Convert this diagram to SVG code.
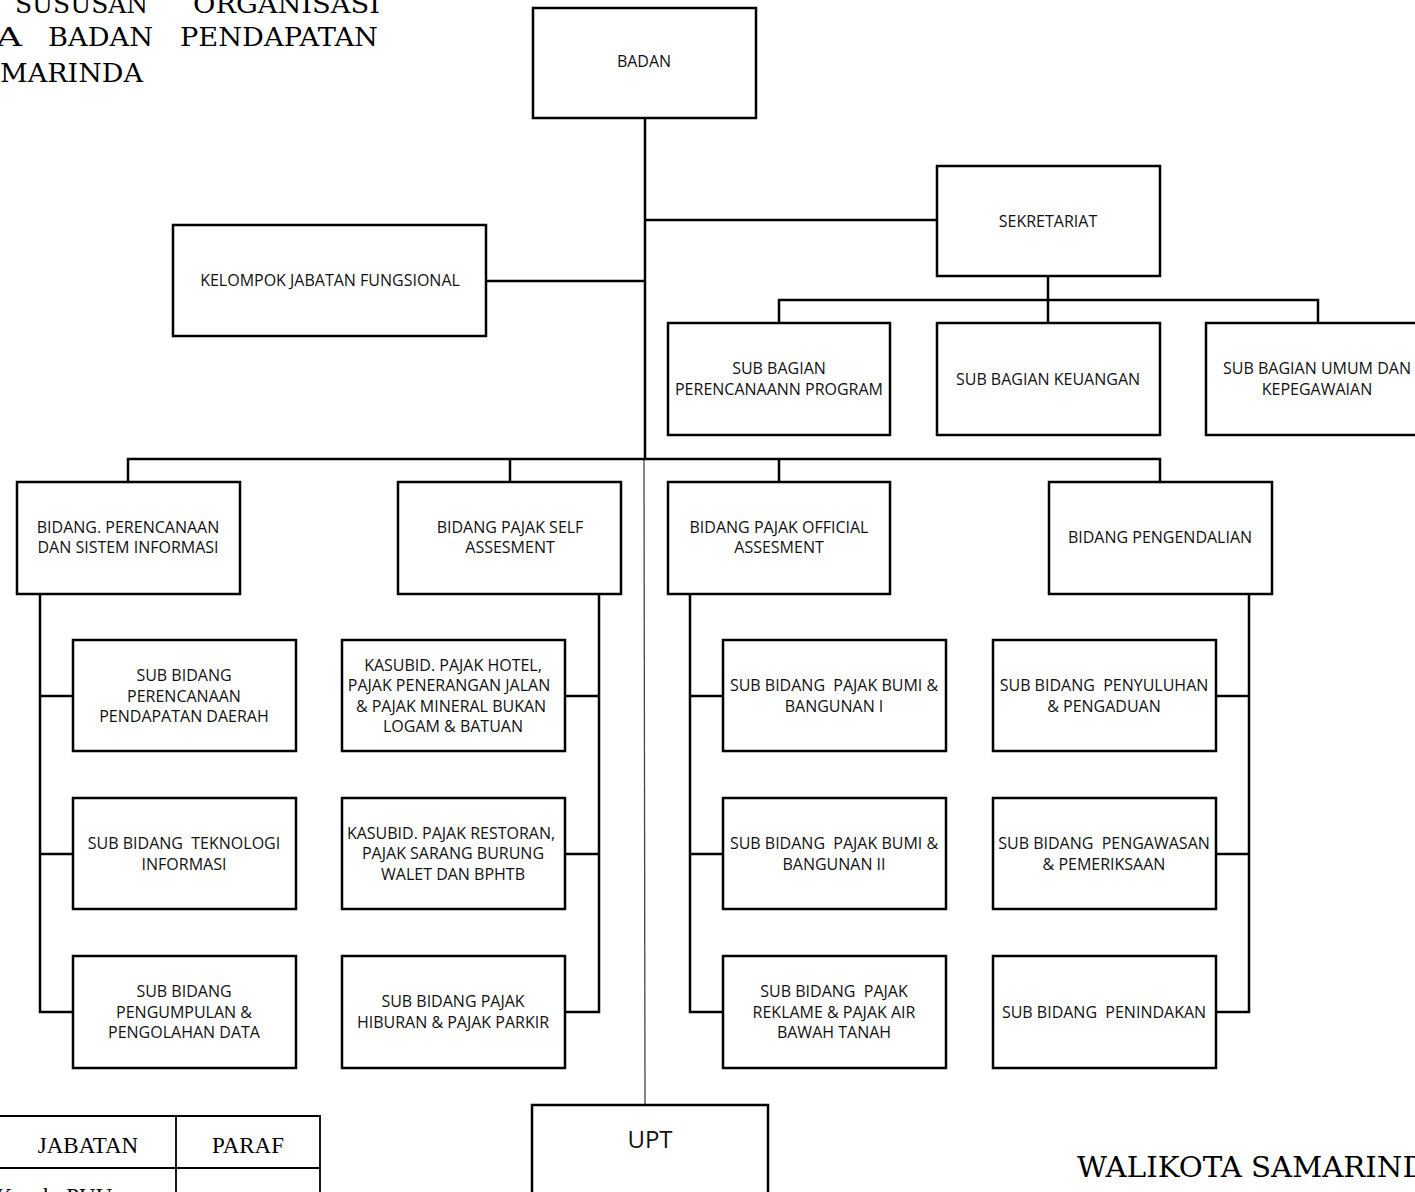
<svg xmlns="http://www.w3.org/2000/svg" width="1415" height="1192" viewBox="0 0 1415 1192">
<style>
.box{fill:#fff;stroke:#000;stroke-width:2.5}
.ln{fill:none;stroke:#000;stroke-width:2.5}
.thin{fill:none;stroke:#444;stroke-width:1.3}
.t{font-family:"Open Sans","Noto Sans",sans-serif;font-size:16px;fill:#111;text-anchor:middle;white-space:pre}
.ser{font-family:"DejaVu Serif","Liberation Serif",serif;font-size:26px;fill:#000}
.tab{font-family:"Liberation Serif","DejaVu Serif",serif;font-size:23px;fill:#000;text-anchor:middle}
</style>
<rect width="1415" height="1192" fill="#fff"/>
<g id="title">
<text class="ser" x="15" y="13" textLength="133" lengthAdjust="spacingAndGlyphs">SUSUSAN</text>
<text class="ser" x="193" y="13" textLength="187" lengthAdjust="spacingAndGlyphs">ORGANISASI</text>
<text class="ser" x="-4" y="46" textLength="26" lengthAdjust="spacingAndGlyphs">A</text>
<text class="ser" x="48" y="46" textLength="105" lengthAdjust="spacingAndGlyphs">BADAN</text>
<text class="ser" x="180" y="46" textLength="198" lengthAdjust="spacingAndGlyphs">PENDAPATAN</text>
<text class="ser" x="0" y="82" textLength="143" lengthAdjust="spacingAndGlyphs">MARINDA</text>
</g>
<g id="connectors">
<path class="ln" d="M645 118V459"/>
<path class="thin" d="M644 459L645 1105"/>
<path class="ln" d="M645 220H937"/>
<path class="ln" d="M486 281H645"/>
<path class="ln" d="M1048 277V300M779 323V300H1318V323M1048 300V323"/>
<path class="ln" d="M128 482V459H1160V482M510 459V482M779 459V482"/>
<path class="ln" d="M40 594V1012H73M40 696H73M40 854H73"/>
<path class="ln" d="M599 594V1012H565M599 696H565M599 854H565"/>
<path class="ln" d="M690 594V1012H723M690 696H723M690 854H723"/>
<path class="ln" d="M1249 594V1012H1216M1249 696H1216M1249 854H1216"/>
</g>
<g id="badan"><rect class="box" x="533" y="8" width="223" height="110"/><text class="t" x="644" y="67">BADAN</text></g>
<g id="sekretariat"><rect class="box" x="937" y="166" width="223" height="110"/><text class="t" x="1048" y="227">SEKRETARIAT</text></g>
<g id="kjf"><rect class="box" x="173" y="225" width="313" height="111"/><text class="t" x="330" y="286">KELOMPOK JABATAN FUNGSIONAL</text></g>
<g id="sb-program"><rect class="box" x="668" y="323" width="222" height="112"/><text class="t" x="779" y="374">SUB BAGIAN</text><text class="t" x="779" y="395">PERENCANAANN PROGRAM</text></g>
<g id="sb-keuangan"><rect class="box" x="937" y="323" width="223" height="112"/><text class="t" x="1048" y="385">SUB BAGIAN KEUANGAN</text></g>
<g id="sb-umum"><rect class="box" x="1206" y="323" width="223" height="112"/><text class="t" x="1317" y="374">SUB BAGIAN UMUM DAN</text><text class="t" x="1317" y="395">KEPEGAWAIAN</text></g>
<g id="b-perencanaan"><rect class="box" x="17" y="482" width="223" height="112"/><text class="t" x="128" y="533">BIDANG. PERENCANAAN</text><text class="t" x="128" y="553">DAN SISTEM INFORMASI</text></g>
<g id="b-self"><rect class="box" x="398" y="482" width="223" height="112"/><text class="t" x="510" y="533">BIDANG PAJAK SELF</text><text class="t" x="510" y="553">ASSESMENT</text></g>
<g id="b-official"><rect class="box" x="668" y="482" width="222" height="112"/><text class="t" x="779" y="533">BIDANG PAJAK OFFICIAL</text><text class="t" x="779" y="553">ASSESMENT</text></g>
<g id="b-pengendalian"><rect class="box" x="1049" y="482" width="223" height="112"/><text class="t" x="1160" y="543">BIDANG PENGENDALIAN</text></g>
<g id="sb1"><rect class="box" x="73" y="640" width="223" height="111"/><text class="t" x="184" y="681">SUB BIDANG</text><text class="t" x="184" y="702">PERENCANAAN</text><text class="t" x="184" y="722">PENDAPATAN DAERAH</text></g>
<g id="sb2"><rect class="box" x="73" y="798" width="223" height="111"/><text class="t" x="184" y="849">SUB BIDANG  TEKNOLOGI</text><text class="t" x="184" y="870">INFORMASI</text></g>
<g id="sb3"><rect class="box" x="73" y="956" width="223" height="112"/><text class="t" x="184" y="997">SUB BIDANG</text><text class="t" x="184" y="1018">PENGUMPULAN &amp;</text><text class="t" x="184" y="1038">PENGOLAHAN DATA</text></g>
<g id="sb4"><rect class="box" x="342" y="640" width="223" height="111"/><text class="t" x="453" y="671">KASUBID. PAJAK HOTEL,</text><text class="t" x="449" y="691">PAJAK PENERANGAN JALAN</text><text class="t" x="451" y="712">&amp; PAJAK MINERAL BUKAN</text><text class="t" x="453" y="732">LOGAM &amp; BATUAN</text></g>
<g id="sb5"><rect class="box" x="342" y="798" width="223" height="111"/><text class="t" x="451" y="839">KASUBID. PAJAK RESTORAN,</text><text class="t" x="453" y="859">PAJAK SARANG BURUNG</text><text class="t" x="453" y="880">WALET DAN BPHTB</text></g>
<g id="sb6"><rect class="box" x="342" y="956" width="223" height="112"/><text class="t" x="453" y="1007">SUB BIDANG PAJAK</text><text class="t" x="453" y="1028">HIBURAN &amp; PAJAK PARKIR</text></g>
<g id="sb7"><rect class="box" x="723" y="640" width="223" height="111"/><text class="t" x="834" y="691">SUB BIDANG  PAJAK BUMI &amp;</text><text class="t" x="834" y="712">BANGUNAN I</text></g>
<g id="sb8"><rect class="box" x="723" y="798" width="223" height="111"/><text class="t" x="834" y="849">SUB BIDANG  PAJAK BUMI &amp;</text><text class="t" x="834" y="870">BANGUNAN II</text></g>
<g id="sb9"><rect class="box" x="723" y="956" width="223" height="112"/><text class="t" x="834" y="997">SUB BIDANG  PAJAK</text><text class="t" x="834" y="1018">REKLAME &amp; PAJAK AIR</text><text class="t" x="834" y="1038">BAWAH TANAH</text></g>
<g id="sb10"><rect class="box" x="993" y="640" width="223" height="111"/><text class="t" x="1104" y="691">SUB BIDANG  PENYULUHAN</text><text class="t" x="1104" y="712">&amp; PENGADUAN</text></g>
<g id="sb11"><rect class="box" x="993" y="798" width="223" height="111"/><text class="t" x="1104" y="849">SUB BIDANG  PENGAWASAN</text><text class="t" x="1104" y="870">&amp; PEMERIKSAAN</text></g>
<g id="sb12"><rect class="box" x="993" y="956" width="223" height="112"/><text class="t" x="1104" y="1018">SUB BIDANG  PENINDAKAN</text></g>
<g id="upt"><rect class="box" x="532" y="1105" width="236" height="120"/><text class="t" x="650" y="1148" style="font-size:24px">UPT</text></g>
<g id="paraf-table">
<path d="M-5 1116H320V1200M-5 1168H320M176 1116V1200" fill="none" stroke="#000" stroke-width="1.8"/>
<text class="tab" x="88" y="1153">JABATAN</text>
<text class="tab" x="248" y="1153">PARAF</text>
<text class="tab" x="-4" y="1204" style="text-anchor:start">Kasub. PUU</text>
</g>
<g id="walikota"><text class="ser" x="1077" y="1177" style="font-size:27px" textLength="370" lengthAdjust="spacingAndGlyphs">WALIKOTA SAMARINDA</text></g>
</svg>
